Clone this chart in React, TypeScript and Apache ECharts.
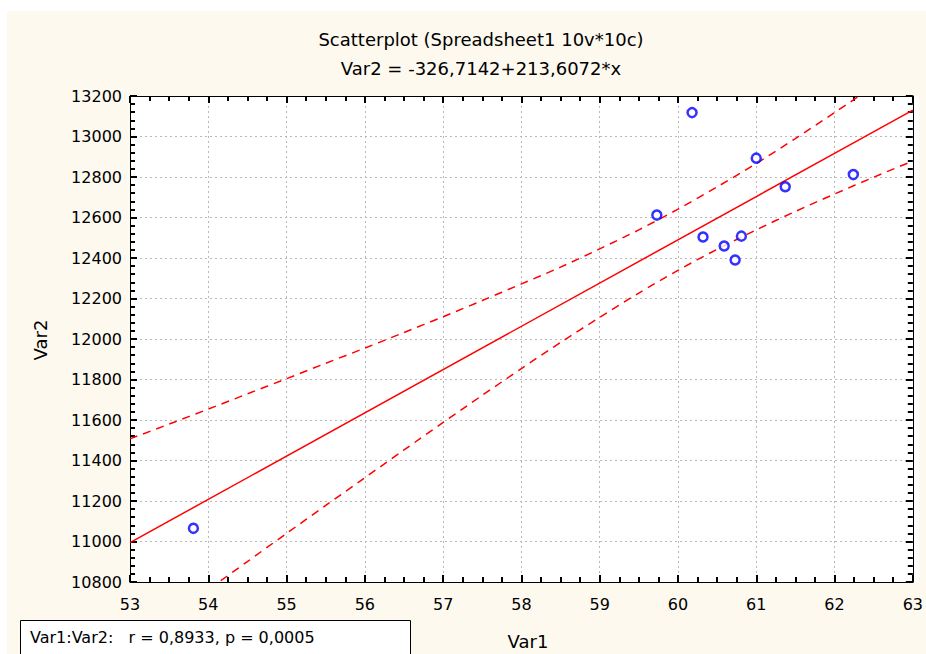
import React, { useEffect, useRef } from "react";
import * as echarts from "echarts";

const titleLine1 = "Scatterplot (Spreadsheet1 10v*10c)";
const titleLine2 = "Var2 = -326,7142+213,6072*x";
const xName = "Var1";
const yName = "Var2";
const statText = "Var1:Var2:   r = 0,8933, p = 0,0005";

const var1 = [53.81, 59.73, 60.18, 60.32, 60.59, 60.73, 60.81, 61.0, 61.37, 62.24];
const var2 = [11065, 12612, 13118, 12504, 12459, 12390, 12508, 12893, 12752, 12812];

const fitX = [53, 63];
const fitY = [10994.5, 13130.5];

const bandX = [53, 53.5, 54, 54.5, 55, 55.5, 56, 56.5, 57, 57.5, 58, 58.5, 59, 59.5, 60, 60.5, 61, 61.5, 62, 62.5, 63];
const bandUpper = [11507, 11580, 11654, 11729, 11804, 11880, 11955, 12032, 12110, 12190, 12272, 12355, 12445, 12539, 12641, 12751, 12867, 12990, 13118, 13249, 13383];
const bandLower = [10483, 10622, 10762, 10901, 11040, 11178, 11315, 11452, 11588, 11722, 11854, 11983, 12107, 12227, 12339, 12443, 12539, 12630, 12716, 12799, 12879];

const FONT = "DejaVu Sans";

function axisStyle(minorSplit: number, withLabels: boolean, labelMargin: number) {
  return {
    axisLine: { show: true, onZero: false, lineStyle: { color: "#000", width: 1 } },
    axisTick: { show: true, inside: true, length: 7, lineStyle: { color: "#000", width: 2 } },
    minorTick: { show: true, splitNumber: minorSplit, length: 5, lineStyle: { color: "#000", width: 2 } },
    splitLine: withLabels
      ? { show: true, lineStyle: { color: "#b8b8b8", type: [2, 3], width: 1 } }
      : { show: false },
    axisLabel: withLabels
      ? { show: true, fontSize: 16, color: "#000", margin: labelMargin, fontFamily: FONT, formatter: (v: number) => String(v) }
      : { show: false },
  };
}

export default function App() {
  const ref = useRef<HTMLDivElement>(null);
  useEffect(() => {
    if (!ref.current) return;
    const chart = echarts.init(ref.current, null, { renderer: "svg" });
    chart.setOption({
      animation: false,
      backgroundColor: "#fdf9ef",
      grid: { left: 123, top: 85, right: 7, bottom: 72, show: false },
      xAxis: [
        { type: "value", position: "bottom", min: 53, max: 63, interval: 1, ...axisStyle(4, true, 14) },
        { type: "value", position: "top", min: 53, max: 63, interval: 1, ...axisStyle(4, false, 8) },
      ],
      yAxis: [
        { type: "value", position: "left", min: 10800, max: 13200, interval: 200, ...axisStyle(5, true, 8) },
        { type: "value", position: "right", min: 10800, max: 13200, interval: 200, ...axisStyle(5, false, 8) },
      ],
      graphic: [
        {
          type: "rect",
          z: -100,
          shape: { x: 123, y: 85, width: 789, height: 486 },
          style: { fill: "#ffffff" },
        },
        {
          type: "text",
          x: 474,
          y: 28,
          style: { text: titleLine1, font: `18px "${FONT}"`, fill: "#000", textAlign: "center", textVerticalAlign: "middle" },
        },
        {
          type: "text",
          x: 474,
          y: 57,
          style: { text: titleLine2, font: `18px "${FONT}"`, fill: "#000", textAlign: "center", textVerticalAlign: "middle" },
        },
        {
          type: "text",
          x: 33,
          y: 329,
          rotation: Math.PI / 2,
          style: { text: yName, font: `18px "${FONT}"`, fill: "#000", textAlign: "center", textVerticalAlign: "middle" },
        },
        {
          type: "text",
          x: 521,
          y: 630,
          style: { text: xName, font: `18px "${FONT}"`, fill: "#000", textAlign: "center", textVerticalAlign: "middle" },
        },
        {
          type: "rect",
          shape: { x: 13.5, y: 609.5, width: 390, height: 50 },
          style: { fill: "#ffffff", stroke: "#000", lineWidth: 1 },
        },
        {
          type: "text",
          x: 23,
          y: 626,
          style: { text: statText, font: `16px "${FONT}"`, fill: "#000", textAlign: "left", textVerticalAlign: "middle" },
        },
      ],
      series: [
        {
          type: "line",
          data: fitX.map((x, i) => [x, fitY[i]]),
          showSymbol: false,
          symbol: "none",
          lineStyle: { color: "#ff0000", width: 1.5 },
          z: 3,
        },
        {
          type: "line",
          data: bandX.map((x, i) => [x, bandUpper[i]]),
          showSymbol: false,
          symbol: "none",
          smooth: 0.3,
          clip: true,
          lineStyle: { color: "#ff0000", width: 1.5, type: [8, 6] },
          z: 3,
        },
        {
          type: "line",
          data: bandX.map((x, i) => [x, bandLower[i]]),
          showSymbol: false,
          symbol: "none",
          smooth: 0.3,
          clip: true,
          lineStyle: { color: "#ff0000", width: 1.5, type: [8, 6] },
          z: 3,
        },
        {
          type: "scatter",
          data: var1.map((x, i) => [x, var2[i]]),
          symbol: "circle",
          symbolSize: 9,
          itemStyle: { color: "#ffffff", borderColor: "#0000ff", borderWidth: 2.5 },
          z: 4,
        },
      ],
    });
    return () => chart.dispose();
  }, []);
  return (
    <div
      ref={ref}
      style={{ position: "absolute", left: 7, top: 11, width: 919, height: 643 }}
    />
  );
}
